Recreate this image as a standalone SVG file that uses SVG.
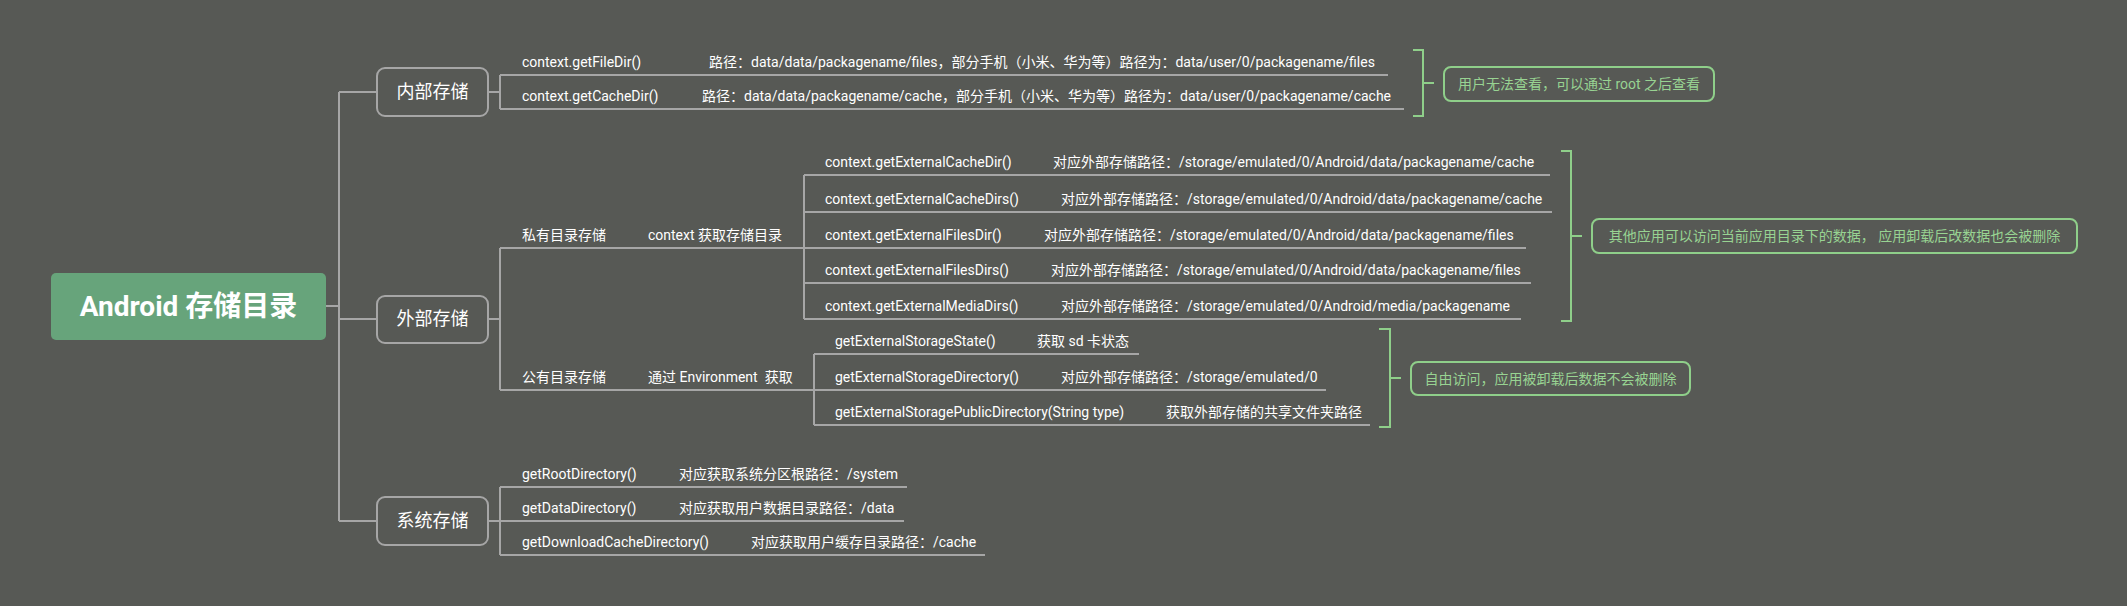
<svg xmlns="http://www.w3.org/2000/svg" width="2127" height="606" viewBox="0 0 2127 606">
<style>
.bg{fill:#575955}
.ln{stroke:#a6a6a6;stroke-width:2;fill:none}
.gr{stroke:#8fcf8a;stroke-width:2;fill:none}
.t{font-family:Roboto,"Noto Sans CJK SC",sans-serif;font-size:14px;fill:#ffffff}
.m{font-family:Roboto,"Noto Sans CJK SC",sans-serif;font-size:18px;fill:#ffffff;text-anchor:middle}
.n{font-family:Roboto,"Noto Sans CJK SC",sans-serif;font-size:14px;fill:#98d392;text-anchor:middle}
.box{fill:#575955;stroke:#a6a6a6;stroke-width:2}
.nb{fill:#575955;stroke:#8fcf8a;stroke-width:2}
</style>
<rect class="bg" x="0" y="0" width="2127" height="606"/>
<g id="connectors">
<path class="ln" d="M326 306H339M339 92V521M339 92H377M339 319H377M339 521H377"/>
<path class="ln" d="M488 92H500M500 75V109M500 75H1388M500 109H1404"/>
<path class="ln" d="M488 319H500M500 248V390M500 248H804M500 390H814"/>
<path class="ln" d="M804 175V319M804 175H1550M804 212H1552M804 248H1526M804 283H1531M804 319H1521"/>
<path class="ln" d="M814 354V425M814 354H1139M814 390H1326M814 425H1370"/>
<path class="ln" d="M488 521H500M500 487V555M500 487H907M500 521H904M500 555H985"/>
<path class="gr" d="M1413 50H1423V116H1413M1423 83H1434"/>
<path class="gr" d="M1561 151H1571V321H1561M1571 236H1582"/>
<path class="gr" d="M1379 329H1390V427H1379M1390 378H1401"/>
</g>
<g id="root">
<rect x="51" y="273" width="275" height="67" rx="5" fill="#67a47b"/>
<text x="188.5" y="316" text-anchor="middle" font-family="Roboto,'Noto Sans CJK SC',sans-serif" font-size="28" font-weight="bold" fill="#ffffff">Android 存储目录</text>
</g>
<g id="internal">
<rect class="box" x="377" y="68" width="111" height="48" rx="8"/>
<text class="m" x="432.5" y="98">内部存储</text>
</g>
<g id="external">
<rect class="box" x="377" y="296" width="111" height="47" rx="8"/>
<text class="m" x="432.5" y="325">外部存储</text>
</g>
<g id="system">
<rect class="box" x="377" y="497" width="111" height="48" rx="8"/>
<text class="m" x="432.5" y="527">系统存储</text>
</g>
<g id="internal-items">
<text class="t" x="522" y="67">context.getFileDir()</text>
<text class="t" x="709" y="67">路径：data/data/packagename/files，部分手机（小米、华为等）路径为：data/user/0/packagename/files</text>
<text class="t" x="522" y="101">context.getCacheDir()</text>
<text class="t" x="702" y="101">路径：data/data/packagename/cache，部分手机（小米、华为等）路径为：data/user/0/packagename/cache</text>
</g>
<g id="private">
<text class="t" x="522" y="240">私有目录存储</text>
<text class="t" x="648" y="240">context 获取存储目录</text>
<text class="t" x="825" y="167">context.getExternalCacheDir()</text>
<text class="t" x="1053" y="167">对应外部存储路径：/storage/emulated/0/Android/data/packagename/cache</text>
<text class="t" x="825" y="204">context.getExternalCacheDirs()</text>
<text class="t" x="1061" y="204">对应外部存储路径：/storage/emulated/0/Android/data/packagename/cache</text>
<text class="t" x="825" y="240">context.getExternalFilesDir()</text>
<text class="t" x="1044" y="240">对应外部存储路径：/storage/emulated/0/Android/data/packagename/files</text>
<text class="t" x="825" y="275">context.getExternalFilesDirs()</text>
<text class="t" x="1051" y="275">对应外部存储路径：/storage/emulated/0/Android/data/packagename/files</text>
<text class="t" x="825" y="311">context.getExternalMediaDirs()</text>
<text class="t" x="1061" y="311">对应外部存储路径：/storage/emulated/0/Android/media/packagename</text>
</g>
<g id="public">
<text class="t" x="522" y="382">公有目录存储</text>
<text class="t" x="648" y="382" xml:space="preserve">通过 Environment  获取</text>
<text class="t" x="835" y="346">getExternalStorageState()</text>
<text class="t" x="1037" y="346">获取 sd 卡状态</text>
<text class="t" x="835" y="382">getExternalStorageDirectory()</text>
<text class="t" x="1061" y="382">对应外部存储路径：/storage/emulated/0</text>
<text class="t" x="835" y="417">getExternalStoragePublicDirectory(String type)</text>
<text class="t" x="1166" y="417">获取外部存储的共享文件夹路径</text>
</g>
<g id="system-items">
<text class="t" x="522" y="479">getRootDirectory()</text>
<text class="t" x="679" y="479">对应获取系统分区根路径：/system</text>
<text class="t" x="522" y="513">getDataDirectory()</text>
<text class="t" x="679" y="513">对应获取用户数据目录路径：/data</text>
<text class="t" x="522" y="547">getDownloadCacheDirectory()</text>
<text class="t" x="751" y="547">对应获取用户缓存目录路径：/cache</text>
</g>
<g id="note-internal">
<rect class="nb" x="1444" y="67" width="270" height="34" rx="7"/>
<text class="n" x="1579" y="89">用户无法查看，可以通过 root 之后查看</text>
</g>
<g id="note-private">
<rect class="nb" x="1592" y="219" width="485" height="34" rx="7"/>
<text class="n" x="1834.5" y="241" xml:space="preserve">其他应用可以访问当前应用目录下的数据， 应用卸载后改数据也会被删除</text>
</g>
<g id="note-public">
<rect class="nb" x="1411" y="362" width="279" height="33" rx="7"/>
<text class="n" x="1550.5" y="383.5">自由访问，应用被卸载后数据不会被删除</text>
</g>
</svg>
